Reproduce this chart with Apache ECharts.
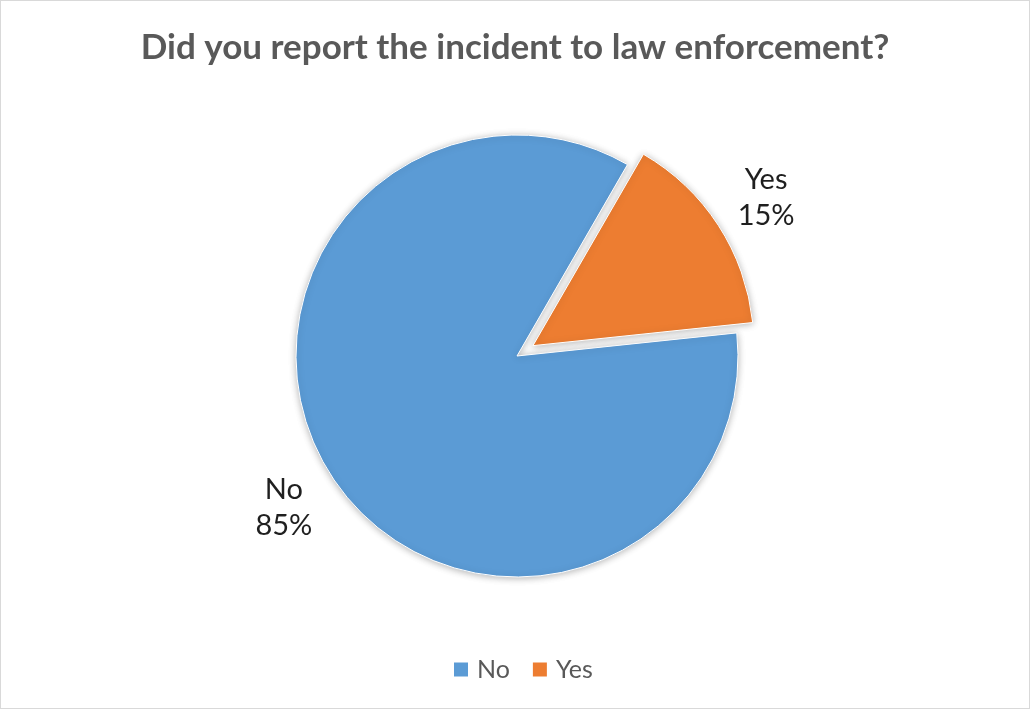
<!DOCTYPE html>
<html>
<head>
<meta charset="utf-8">
<script src="https://cdn.jsdelivr.net/npm/echarts@6/dist/echarts.min.js"></script>
<style>
  html, body { margin: 0; padding: 0; background: #fff; }
  #chart { width: 1030px; height: 709px; box-sizing: border-box; border: 1px solid #d9d9d9; background: #fff; }
</style>
</head>
<body>
<div id="chart"></div>
<script>
// Survey answers
const titleText = 'Did you report the incident to law enforcement?';
const categories = ['No', 'Yes'];
const values = [85, 15];
const colors = ['#5B9BD5', '#ED7D31'];
const explodedIndex = 1; // the "Yes" slice is pulled out

const CENTER = [516, 355];
const START_ANGLE = 6;
const PIE_RADIUS = 221;
const LABEL_RADIUS = 278;
const EXPLODE = 19;

const chart = echarts.init(document.getElementById('chart'), null, { renderer: 'canvas' });

const total = values.reduce((a, b) => a + b, 0);

function midAngle(i) {
  let before = 0;
  for (let k = 0; k < i; k++) before += values[k];
  return (START_ANGLE - 360 * (before + values[i] / 2) / total) * Math.PI / 180;
}

// labels sit centred on each slice's bisector, just outside the pie
function labelAt(params) {
  const rad = midAngle(params.dataIndex);
  const r = LABEL_RADIUS + (params.dataIndex === explodedIndex ? EXPLODE : 0);
  return {
    x: CENTER[0] + r * Math.cos(rad),
    y: CENTER[1] - r * Math.sin(rad) + (params.dataIndex === explodedIndex ? 3 : 0),
    align: 'center',
    verticalAlign: 'middle'
  };
}

chart.setOption({
  animation: false,
  backgroundColor: '#fff',
  title: {
    text: titleText,
    left: 'center',
    top: 24,
    textStyle: { fontFamily: 'Lato', fontWeight: 'bold', fontSize: 35, color: '#595959' }
  },
  legend: {
    data: categories.map((name, i) => ({ name: name, itemStyle: { color: colors[i] } })),
    bottom: 21,
    left: 446,
    icon: 'rect',
    itemWidth: 16,
    itemHeight: 16,
    itemGap: 21,
    selectedMode: false,
    textStyle: { fontFamily: 'Lato', fontSize: 25, color: '#595959', padding: [0, 0, 0, 3] }
  },
  series: [
    {
      // the slices
      type: 'pie',
      center: CENTER,
      radius: PIE_RADIUS,
      startAngle: START_ANGLE,
      clockwise: true,
      selectedMode: 'single',
      selectedOffset: EXPLODE,
      emphasis: { disabled: true },
      itemStyle: {
        borderColor: '#ffffff',
        borderWidth: 1,
        shadowBlur: 7,
        shadowColor: 'rgba(0,0,0,0.28)',
        shadowOffsetY: 1
      },
      label: { show: false },
      labelLine: { show: false },
      data: categories.map((name, i) => ({
        name: name,
        value: values[i],
        selected: i === explodedIndex,
        itemStyle: { color: colors[i] },
        select: { itemStyle: { color: colors[i], borderColor: '#ffffff', borderWidth: 1 } }
      }))
    },
    {
      // data labels (name + percentage)
      type: 'pie',
      center: CENTER,
      radius: PIE_RADIUS,
      startAngle: START_ANGLE,
      clockwise: true,
      silent: true,
      selectedMode: false,
      emphasis: { disabled: true },
      itemStyle: { color: 'rgba(0,0,0,0)', borderWidth: 0 },
      label: {
        show: true,
        position: 'outside',
        formatter: p => p.name + '\n' + p.value + '%',
        fontFamily: 'Lato',
        fontSize: 29,
        lineHeight: 36,
        color: '#1f1f1f'
      },
      labelLine: { show: false },
      labelLayout: labelAt,
      data: categories.map((name, i) => ({ name: name, value: values[i] }))
    }
  ]
});
</script>
</body>
</html>
